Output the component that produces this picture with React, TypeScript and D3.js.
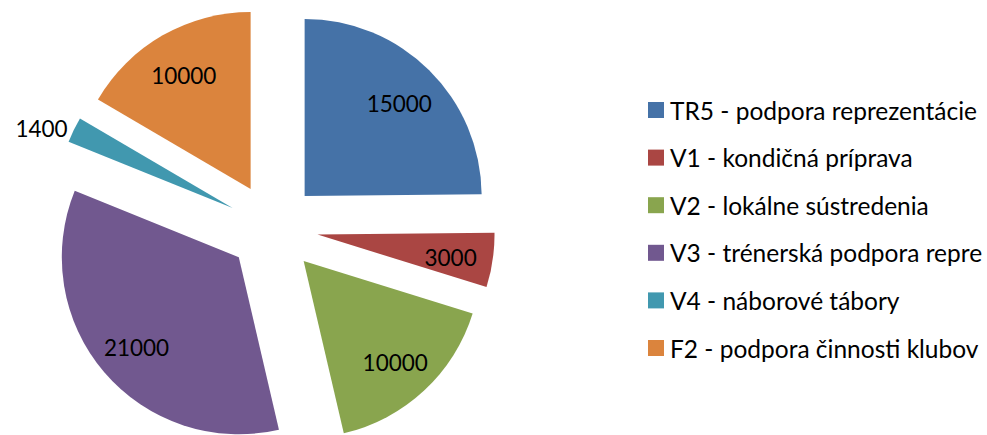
import React, { useEffect, useRef } from 'react';
import * as d3 from 'd3';

const labels = [
  'TR5 - podpora reprezentácie',
  'V1 - kondičná príprava',
  'V2 - lokálne sústredenia',
  'V3 - trénerská podpora repre',
  'V4 - náborové tábory',
  'F2 - podpora činnosti klubov'
];
const values = [15000, 3000, 10000, 21000, 1400, 10000];
const colors = ['#4572A7', '#AA4643', '#89A54E', '#71588F', '#4198AF', '#DB843D'];

const App = () => {
  const ref = useRef<SVGSVGElement>(null);

  useEffect(() => {
    const cx = 273, cy = 228, radius = 177, explode = 45;
    const svg = d3.select(ref.current);
    svg.selectAll('*').remove();

    const data = values.map((v, i) => ({ label: labels[i], value: v, i }));
    const pie = d3.pie<any>().sort(null).value(d => d.value);
    const arcs = pie(data);
    const arc = d3.arc<any>().innerRadius(0).outerRadius(radius);

    const g = svg.append('g').attr('transform', `translate(${cx},${cy})`);

    const slice = g.selectAll('g.slice')
      .data(arcs)
      .join('g')
      .attr('class', 'slice')
      .attr('transform', d => {
        const a = (d.startAngle + d.endAngle) / 2;
        return `translate(${explode * Math.sin(a)},${-explode * Math.cos(a)})`;
      });

    slice.append('path')
      .attr('d', arc)
      .attr('fill', d => colors[d.data.i]);

    // small slices get their label outside, the rest at 3/4 radius
    const isSmall = (d: any) => d.endAngle - d.startAngle < 0.2;
    slice.append('text')
      .attr('x', d => {
        const a = (d.startAngle + d.endAngle) / 2;
        return (isSmall(d) ? radius + 7 : radius * 0.76) * Math.sin(a);
      })
      .attr('y', d => {
        const a = (d.startAngle + d.endAngle) / 2;
        return -(isSmall(d) ? radius + 4 : radius * 0.76) * Math.cos(a) + (isSmall(d) ? 0 : 3);
      })
      .attr('text-anchor', d => (isSmall(d) ? 'end' : 'middle'))
      .attr('dominant-baseline', 'central')
      .attr('font-family', 'Lato, sans-serif')
      .attr('font-size', 22.5)
      .attr('fill', '#000')
      .text(d => d.data.value);

    const legend = svg.append('g').attr('transform', 'translate(648,110)');
    const rows = legend.selectAll('g')
      .data(data)
      .join('g')
      .attr('transform', (d, i) => `translate(0,${i * 47.6})`);

    rows.append('rect')
      .attr('x', 0)
      .attr('y', -8)
      .attr('width', 16)
      .attr('height', 16)
      .attr('fill', d => colors[d.i]);

    rows.append('text')
      .attr('x', 22)
      .attr('y', 0)
      .attr('dominant-baseline', 'central')
      .attr('font-family', 'Lato, sans-serif')
      .attr('font-size', 24.5)
      .attr('fill', '#000')
      .text(d => d.label);
  }, []);

  return (
    <svg ref={ref} width={987} height={435}
      style={{ position: 'absolute', left: 0, top: 0, background: '#fff' }} />
  );
};

export default App;
